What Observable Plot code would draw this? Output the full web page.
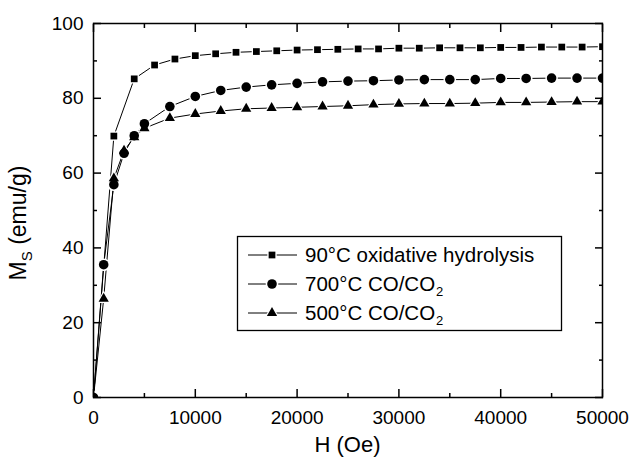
<!DOCTYPE html>
<html><head><meta charset="utf-8">
<script src="https://cdn.jsdelivr.net/npm/d3@7"></script>
<script src="https://cdn.jsdelivr.net/npm/@observablehq/plot@0.6"></script>
<style>html,body{margin:0;padding:0;background:#fff}svg{display:block}</style>
</head><body><div id="chart"></div>
<script>
// ---- data ----
const seriesNames = ["90°C oxidative hydrolysis", "700°C CO/CO", "500°C CO/CO"];
const seriesSubs = ["", "2", "2"];
const seriesSymbols = ["square", "circle", "triangle"];

const hSquare = [0, 2000, 4000, 6000, 8000, 10000, 12000, 14000, 16000, 18000, 20000, 22000, 24000,
  26000, 28000, 30000, 32000, 34000, 36000, 38000, 40000, 42000, 44000, 46000, 48000, 50000];
const msSquare = [0, 69.9, 85.2, 88.9, 90.5, 91.4, 91.9, 92.3, 92.5, 92.7, 92.9, 93.0, 93.1,
  93.2, 93.2, 93.4, 93.4, 93.5, 93.5, 93.5, 93.6, 93.6, 93.7, 93.7, 93.7, 93.8];

const hRound = [0, 1000, 2000, 3000, 4000, 5000, 7500, 10000, 12500, 15000, 17500, 20000,
  22500, 25000, 27500, 30000, 32500, 35000, 37500, 40000, 42500, 45000, 47500, 50000];
const msCircle = [0, 35.5, 56.9, 65.3, 70.0, 73.2, 77.8, 80.5, 82.1, 83.0, 83.6, 84.0,
  84.4, 84.6, 84.7, 84.9, 85.0, 85.0, 85.0, 85.3, 85.3, 85.4, 85.4, 85.4];
const msTriangle = [0, 26.4, 58.6, 66.0, 69.6, 72.0, 74.7, 75.8, 76.6, 77.2, 77.4, 77.6,
  77.8, 78.0, 78.3, 78.5, 78.6, 78.6, 78.7, 78.9, 78.9, 79.0, 79.1, 79.1];

const xTicks = [0, 10000, 20000, 30000, 40000, 50000];
const xMinorTicks = [5000, 15000, 25000, 35000, 45000];
const yTicks = [0, 20, 40, 60, 80, 100];
const yMinorTicks = [10, 30, 50, 70, 90];

// ---- layout ----
const W = 633, H = 457, mL = 93, mR = 31, mT = 23, mB = 60;
const pw = W - mL - mR, ph = H - mT - mB;
const FONT = "'Liberation Sans', Arial, Helvetica, sans-serif";

const series = [
  {h: hSquare, ms: msSquare, r: 3.8},
  {h: hRound, ms: msCircle, r: 4.8},
  {h: hRound, ms: msTriangle, r: 3.8}
].map((s, i) => ({...s, name: seriesNames[i], symbol: seriesSymbols[i],
  data: s.h.map((h, j) => ({h, ms: s.ms[j]}))}));

const marks = [];
for (const s of series) marks.push(Plot.line(s.data, {x: "h", y: "ms", stroke: "black", strokeWidth: 1, clip: true}));
for (const s of series) marks.push(Plot.dot(s.data, {x: "h", y: "ms", symbol: () => s.symbol, r: s.r + 1.5, fill: "white", stroke: "none", clip: true}));
for (const s of series) marks.push(Plot.dot(s.data, {x: "h", y: "ms", symbol: () => s.symbol, r: s.r, fill: "black", stroke: "none", clip: true}));

const none = () => "";
const tk = {tickFormat: none, label: null, stroke: "black", strokeWidth: 1.5};
marks.push(
  // inward ticks on all four sides
  Plot.axisX({anchor: "bottom", ticks: xTicks, tickSize: 8, dy: -8, ...tk}),
  Plot.axisX({anchor: "bottom", ticks: xMinorTicks, tickSize: 4, dy: -4, ...tk}),
  Plot.axisX({anchor: "top", ticks: xTicks, tickSize: 8, dy: 8, ...tk}),
  Plot.axisX({anchor: "top", ticks: xMinorTicks, tickSize: 4, dy: 4, ...tk}),
  Plot.axisY({anchor: "left", ticks: yTicks, tickSize: 8, dx: 8, ...tk}),
  Plot.axisY({anchor: "left", ticks: yMinorTicks, tickSize: 4, dx: 4, ...tk}),
  Plot.axisY({anchor: "right", ticks: yTicks, tickSize: 8, dx: -8, ...tk}),
  Plot.axisY({anchor: "right", ticks: yMinorTicks, tickSize: 4, dx: -4, ...tk}),
  Plot.frame({stroke: "black", strokeWidth: 1.5}),
  // tick labels
  Plot.axisX({ticks: xTicks, tickSize: 0, tickPadding: 13, tickFormat: d => String(d), label: null, fontSize: 19, fill: "black"}),
  Plot.axisY({ticks: yTicks, tickSize: 0, tickPadding: 10, tickFormat: d => String(d), label: null, fontSize: 19, fill: "black"})
);

const chart = Plot.plot({
  width: W, height: H,
  marginLeft: mL, marginRight: mR, marginTop: mT, marginBottom: mB,
  x: {domain: [0, 50000]},
  y: {domain: [0, 100]},
  style: {fontFamily: FONT, fontSize: "19px", color: "black", background: "white"},
  marks
});
document.getElementById("chart").appendChild(chart);

// ---- axis titles and legend ----
const svg = d3.select(chart);
svg.append("text").attr("x", mL + pw / 2).attr("y", 452).attr("text-anchor", "middle")
  .attr("font-family", FONT).attr("font-size", 22).attr("fill", "black").text("H (Oe)");

const yt = svg.append("text").attr("transform", "translate(26,223) rotate(-90)").attr("text-anchor", "middle")
  .attr("font-family", FONT).attr("font-size", 23).attr("fill", "black");
yt.append("tspan").text("M");
yt.append("tspan").attr("font-size", 15).attr("dy", 6).text("S");
yt.append("tspan").attr("dy", -6).text(" (emu/g)");

const lg = svg.append("g").attr("text-anchor", "start");
lg.append("rect").attr("x", 237.5).attr("y", 236.5).attr("width", 324).attr("height", 94)
  .attr("fill", "white").attr("stroke", "black").attr("stroke-width", 1.3);
const rowY = [255, 284, 313];
const symMap = {square: d3.symbolSquare, circle: d3.symbolCircle, triangle: d3.symbolTriangle};
series.forEach((s, i) => {
  const y = rowY[i];
  lg.append("line").attr("x1", 248).attr("x2", 297).attr("y1", y).attr("y2", y).attr("stroke", "black").attr("stroke-width", 1);
  lg.append("path").attr("transform", `translate(272,${y})`)
    .attr("d", d3.symbol(symMap[s.symbol], Math.PI * (s.r + 1.5) ** 2)()).attr("fill", "white");
  lg.append("path").attr("transform", `translate(272,${y})`)
    .attr("d", d3.symbol(symMap[s.symbol], Math.PI * s.r ** 2)()).attr("fill", "black");
  const t = lg.append("text").attr("x", 305).attr("y", y + 7).attr("text-anchor", "start")
    .attr("font-family", FONT).attr("font-size", 20.5).attr("fill", "black");
  t.append("tspan").text(s.name);
  if (seriesSubs[i]) t.append("tspan").attr("font-size", 13).attr("dy", 5).attr("dx", 1).text(seriesSubs[i]);
});
</script>
</body></html>
